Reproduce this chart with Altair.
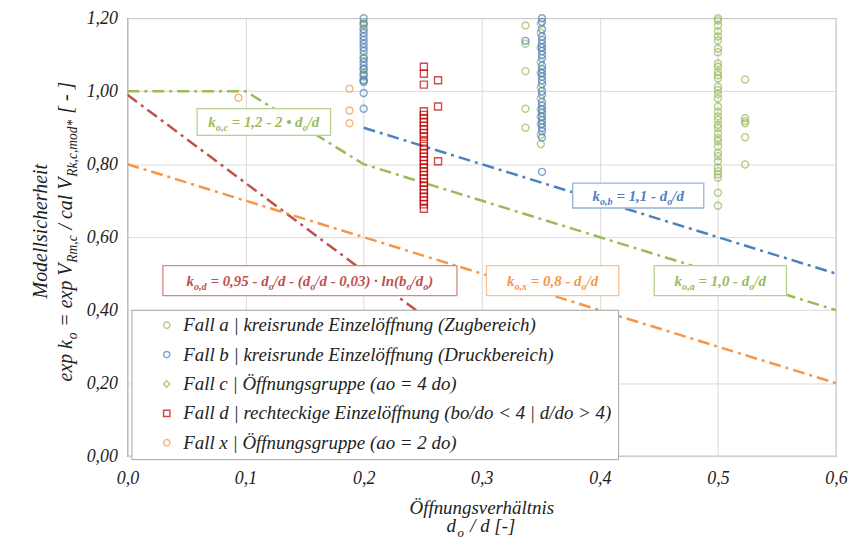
import altair as alt
import pandas as pd

# ---------------- data ----------------
FALL = [
    "Fall a | kreisrunde Einzelöffnung (Zugbereich)",
    "Fall b | kreisrunde Einzelöffnung (Druckbereich)",
    "Fall c | Öffnungsgruppe (ao = 4 do)",
    "Fall d | rechteckige Einzelöffnung (bo/do < 4 | d/do > 4)",
    "Fall x | Öffnungsgruppe (ao = 2 do)",
]
FALL_COLORS = ["#9BBB59", "#4F81BD", "#9BBB59", "#C00000", "#F79646"]
FALL_SHAPES = ["circle", "circle", "diamond", "square", "circle"]

# Fall a (green circles): x positions and the values in each column
a_x = [0.200, 0.337, 0.350, 0.500, 0.523]
a_y = [
    [1.19, 1.18, 1.10, 1.09, 1.06, 1.05, 1.04, 1.03],
    [1.18, 1.13, 1.055, 0.952, 0.90],
    [1.185, 1.16, 1.12, 1.08, 1.05, 1.01, 0.98, 0.95, 0.93, 0.91, 0.88, 0.855],
    [1.20, 1.194, 1.18, 1.164, 1.15, 1.139, 1.117, 1.107, 1.076, 1.067, 1.053,
     1.044, 1.035, 1.012, 1.003, 0.992, 0.98, 0.958, 0.944, 0.931, 0.922, 0.908,
     0.899, 0.885, 0.872, 0.863, 0.849, 0.831, 0.822, 0.808, 0.79, 0.781, 0.772,
     0.763, 0.722, 0.686],
    [1.032, 0.926, 0.918, 0.912, 0.874, 0.799],
]
# Fall b (blue circles)
b_x = [0.200, 0.337, 0.351]
b_y = [
    [1.20, 1.185, 1.17, 1.16, 1.15, 1.14, 1.13, 1.12, 1.11, 1.09, 1.08, 1.07, 1.06,
     1.045, 1.03, 1.025, 0.995, 0.952],
    [1.138],
    [1.20, 1.19, 1.17, 1.15, 1.14, 1.13, 1.12, 1.11, 1.10, 1.09, 1.07, 1.06, 1.05,
     1.04, 1.03, 1.02, 1.00, 0.99, 0.97, 0.96, 0.95, 0.94, 0.93, 0.92, 0.91, 0.90,
     0.89, 0.873, 0.779],
]
# Fall d (red squares)
d_x = [0.251, 0.263]
d_y = [
    [1.067, 1.048, 1.018, 0.945, 0.935, 0.925, 0.915, 0.905, 0.895, 0.885, 0.875,
     0.862, 0.85, 0.84, 0.83, 0.82, 0.81, 0.80, 0.79, 0.78, 0.77, 0.76, 0.75,
     0.74, 0.73, 0.72, 0.71, 0.70, 0.69, 0.678],
    [1.03, 0.958, 0.808],
]
# Fall x (orange circles)
x_x = [0.094, 0.188]
x_y = [[0.982], [1.007, 0.947, 0.912]]

# design lines
line_c_x = [0.0, 0.1, 0.2, 0.6]
line_c_y = [1.0, 1.0, 0.8, 0.4]
line_b_x = [0.2, 0.6]
line_b_y = [0.9, 0.5]
line_d_x = [0.0, 0.41]
line_d_y = [0.99, 0.0]
line_x_x = [0.0, 0.6]
line_x_y = [0.8, 0.2]

# annotation boxes (data coordinates): x1, x2, y1, y2
box_x1 = [0.059, 0.377, 0.030, 0.304, 0.446]
box_x2 = [0.172, 0.488, 0.279, 0.416, 0.558]
box_y1 = [0.879, 0.680, 0.440, 0.440, 0.440]
box_y2 = [0.952, 0.748, 0.522, 0.522, 0.522]
box_text_col = ["#9BBB59", "#4F81BD", "#C0504D", "#F79646", "#9BBB59"]
box_line_col = ["#B5D08F", "#95B3D7", "#D28A88", "#FAC090", "#B5D08F"]
box_parts = [
    [("k", "n"), ("o,c", "s"), (" = 1,2 - 2 • d", "n"), ("o", "s"), ("/d", "n")],
    [("k", "n"), ("o,b", "s"), (" = 1,1 - d", "n"), ("o", "s"), ("/d", "n")],
    [("k", "n"), ("o,d", "s"), (" = 0,95 - d", "n"), ("o", "s"), ("/d - (d", "n"),
     ("o", "s"), ("/d - 0,03) · ln(b", "n"), ("o", "s"), ("/d", "n"), ("o", "s"),
     (")", "n")],
    [("k", "n"), ("o,x", "s"), (" = 0,8 - d", "n"), ("o", "s"), ("/d", "n")],
    [("k", "n"), ("o,a", "s"), (" = 1,0 - d", "n"), ("o", "s"), ("/d", "n")],
]

y_title_1 = "Modellsicherheit"
y_title_2 = [("exp k", "n"), ("o", "s"), (" = exp V", "n"), ("Rm,c", "s"),
             (" / cal V", "n"), ("Rk,c,mod*", "s"), (" [ - ]", "n")]
x_title_1 = "Öffnungsverhältnis"
x_title_2 = [("d", "n"), ("o", "s"), (" / d [-]", "n")]

SERIF = "Liberation Serif, Times New Roman, DejaVu Serif, serif"

# ---------------- helpers ----------------
W_IT = {' ': 250, 'e': 444, 'x': 444, 'p': 500, 'k': 444, 'o': 500, '=': 675,
        'V': 611, 'R': 611, 'm': 722, ',': 250, 'c': 444, '/': 278, 'a': 500,
        'l': 278, 'd': 500, '*': 500, '[': 389, ']': 389, '-': 333}
W_BI = {' ': 250, 'k': 500, 'o': 500, ',': 250, 'c': 444, 'b': 500, 'd': 500,
        'x': 500, 'a': 500, '=': 570, '-': 333, '•': 350, '/': 278, '(': 333,
        ')': 333, '·': 250, 'l': 278, 'n': 556}


def tw(s, size, table):
    return sum(table.get(ch, 500) for ch in s) * size / 1000.0


def segments(parts, size, table, base_dy, sub_scale=0.68, gap=0.8):
    widths = []
    for t, kind in parts:
        fs = size * sub_scale if kind == "s" else size
        widths.append(tw(t, fs, table) + gap)
    pos = -sum(widths) / 2.0
    rows = []
    for (t, kind), w in zip(parts, widths):
        fs = size * sub_scale if kind == "s" else size
        lead = len(t) - len(t.lstrip(" "))
        rows.append({
            "text": t.lstrip(" "),
            "dx": pos + tw(" " * lead, fs, table),
            "dy": base_dy + (size * 0.28 if kind == "s" else 0.0),
            "fs": fs,
        })
        pos += w
    return rows


# ---------------- tables ----------------
pts = []
for fall, xs, groups in [(FALL[0], a_x, a_y), (FALL[1], b_x, b_y),
                         (FALL[3], d_x, d_y), (FALL[4], x_x, x_y)]:
    for xv, ys in zip(xs, groups):
        for yv in ys:
            pts.append({"ratio": xv, "ko": yv, "fall": fall})
pts_df = pd.DataFrame(pts)

lines = [
    (line_c_x, line_c_y, "#9BBB59"),
    (line_b_x, line_b_y, "#4F81BD"),
    (line_d_x, line_d_y, "#C0504D"),
    (line_x_x, line_x_y, "#F79646"),
]

box_df = pd.DataFrame({"ratio": box_x1, "ratio2": box_x2, "ko": box_y1,
                       "ko2": box_y2, "sc": box_line_col})

ann_rows = []
for i, parts in enumerate(box_parts):
    cx = (box_x1[i] + box_x2[i]) / 2
    cy = (box_y1[i] + box_y2[i]) / 2
    for r in segments(parts, 15, W_BI, 5.0, gap=0.0):
        r.update({"ratio": cx, "ko": cy, "tc": box_text_col[i]})
        ann_rows.append(r)
ann_df = pd.DataFrame(ann_rows)

yt2_df = pd.DataFrame(segments(y_title_2, 20, W_IT, 0.0))
xt2_df = pd.DataFrame(segments(x_title_2, 19, W_IT, 0.0, gap=1.5))

# ---------------- encodings ----------------
x_axis = alt.Axis(values=[0.0, 0.1, 0.2, 0.3, 0.4, 0.5, 0.6], format=".1f",
                  labelExpr="replace(datum.label, '.', ',')", title=None,
                  labelPadding=13, labelFlush=False, grid=True)
y_axis = alt.Axis(values=[0.0, 0.2, 0.4, 0.6, 0.8, 1.0, 1.2], format=".2f",
                  labelExpr="replace(datum.label, '.', ',')", title=None,
                  labelPadding=10, grid=True)
XS = alt.Scale(domain=[0, 0.6], nice=False, zero=False)
YS = alt.Scale(domain=[0, 1.2], nice=False, zero=False)


def X():
    return alt.X("ratio:Q", scale=XS, axis=x_axis)


def Y():
    return alt.Y("ko:Q", scale=YS, axis=y_axis)


DASH = [12, 5, 3, 5]
layers = []
for xs, ys, col in lines:
    df = pd.DataFrame({"ratio": xs, "ko": ys})
    layers.append(
        alt.Chart(df).mark_line(color=col, strokeWidth=2.5, strokeDash=DASH, clip=True)
        .encode(x=X(), y=Y())
    )

boxes = alt.Chart(box_df).mark_rect(fill="white", strokeWidth=1.3).encode(
    x=X(), x2="ratio2:Q", y=Y(), y2="ko2:Q", stroke=alt.Stroke("sc:N", scale=None)
)
layers.append(boxes)

ann = alt.Chart(ann_df).mark_text(
    align="left", baseline="alphabetic", font=SERIF,
    fontStyle="italic", fontWeight="bold",
    dx={"expr": "datum.dx"}, dy={"expr": "datum.dy"}, fontSize={"expr": "datum.fs"},
).encode(x=X(), y=Y(), text="text:N", fill=alt.Fill("tc:N", scale=None))
layers.append(ann)

legend = alt.Legend(
    title=None, orient="none", legendX=4, legendY=293, fillColor="white",
    strokeColor="#a6a6a6", padding=6, labelFont=SERIF,
    labelFontStyle="italic", labelFontSize=19, labelColor="#222",
    labelLimit=800, rowPadding=9.5, symbolOffset=20, labelOffset=7,
    symbolSize=40, symbolStrokeWidth=1.5,
)
points = alt.Chart(pts_df).mark_point(filled=False, size=50, strokeWidth=1.4).encode(
    x=X(), y=Y(),
    color=alt.Color("fall:N", scale=alt.Scale(domain=FALL, range=FALL_COLORS), legend=legend),
    shape=alt.Shape("fall:N", scale=alt.Scale(domain=FALL, range=FALL_SHAPES), legend=legend),
)
layers.append(points)

# axis titles drawn as text (to allow subscripts)
yt1 = alt.Chart(pd.DataFrame({"text": [y_title_1]})).mark_text(
    angle=270, align="center", baseline="middle", font=SERIF,
    fontStyle="italic", fontSize=20, color="#222",
).encode(x=alt.value(-87), y=alt.value(214), text="text:N")
yt2 = alt.Chart(yt2_df).mark_text(
    angle=270, align="left", baseline="alphabetic", font=SERIF,
    fontStyle="italic", color="#222",
    dx={"expr": "datum.dx"}, dy={"expr": "datum.dy"}, fontSize={"expr": "datum.fs"},
).encode(x=alt.value(-56), y=alt.value(214), text="text:N")
xt1 = alt.Chart(pd.DataFrame({"text": [x_title_1]})).mark_text(
    align="center", baseline="middle", font=SERIF,
    fontStyle="italic", fontSize=19, color="#222",
).encode(x=alt.value(356), y=alt.value(492), text="text:N")
xt2 = alt.Chart(xt2_df).mark_text(
    align="left", baseline="alphabetic", font=SERIF,
    fontStyle="italic", color="#222",
    dx={"expr": "datum.dx"}, dy={"expr": "datum.dy"}, fontSize={"expr": "datum.fs"},
).encode(x=alt.value(356), y=alt.value(516), text="text:N")
layers += [yt1, yt2, xt1, xt2]

chart = alt.layer(*layers).properties(
    width=712, height=440,
    padding={"left": 120, "top": 9, "right": 12, "bottom": 82},
    autosize=alt.AutoSizeParams(type="none"),
).configure_view(
    stroke="#8c8c8c", strokeWidth=1.2
).configure_axis(
    labelFont=SERIF, labelFontStyle="italic", labelFontSize=18,
    labelColor="#222", gridColor="#d9d9d9", gridWidth=1, domain=False, ticks=False,
)

chart.save("out.html", embed_options={"renderer": "svg", "actions": False})
